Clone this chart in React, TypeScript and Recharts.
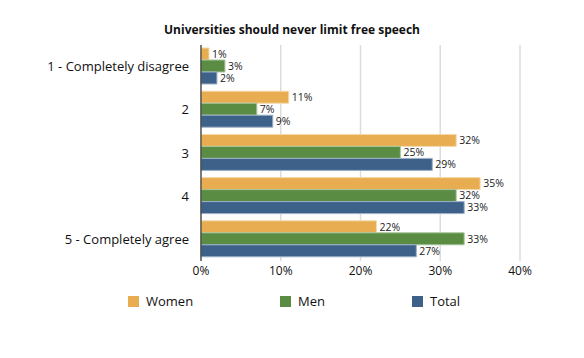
import { BarChart, Bar, XAxis, YAxis, CartesianGrid, LabelList } from 'recharts';

const categories = ['1 - Completely disagree', '2', '3', '4', '5 - Completely agree'];
const women = [1, 11, 32, 35, 22];
const men = [3, 7, 25, 32, 33];
const total = [2, 9, 29, 33, 27];
const xTicks = [0, 10, 20, 30, 40];

const data = categories.map((name, i) => ({ name, women: women[i], men: men[i], total: total[i] }));

const FONT = '"Open Sans", "Noto Sans", sans-serif';

const legendItems = [
  { label: 'Women', color: '#E8AD50', width: 152 },
  { label: 'Men', color: '#5A8C44', width: 132 },
  { label: 'Total', color: '#3E618A', width: 100 },
];

// legend drawn as plain html under the plot
function ChartLegend() {
  return (
    <div
      style={{
        position: 'absolute', top: 292, left: 0, width: 584, display: 'flex', paddingLeft: 128,
        fontFamily: FONT, fontSize: 13, color: '#111', boxSizing: 'border-box',
      }}
    >
      {legendItems.map(item => (
        <div key={item.label} style={{ width: item.width, display: 'flex', alignItems: 'center' }}>
          <span style={{ width: 11, height: 11, background: item.color, display: 'inline-block', marginRight: 7 }} />
          {item.label}
        </div>
      ))}
    </div>
  );
}

export default function App() {
  const pct = (v: any) => `${v}%`;
  const labelStyle = { fontSize: 10.5, fill: '#222', fontFamily: FONT };
  return (
    <div style={{ position: 'absolute', left: 0, top: 0, width: 584, height: 358, background: '#fff' }}>
      <div
        style={{
          position: 'absolute', top: 21, left: 0, width: 584,
          textAlign: 'center', fontFamily: FONT, fontWeight: 700, fontSize: 12, color: '#111',
        }}
      >
        Universities should never limit free speech
      </div>
      <BarChart
        width={584}
        height={358}
        data={data}
        layout="vertical"
        margin={{ top: 45, right: 64, bottom: 67, left: 0 }}
        barCategoryGap={3}
        barGap={0}
      >
        <CartesianGrid horizontal={false} stroke="#dcdcdc" strokeWidth={1.5} />
        <XAxis
          type="number"
          domain={[0, 40]}
          ticks={xTicks}
          tickFormatter={pct}
          height={30}
          axisLine={false}
          tickLine={false}
          tickSize={3}
          tick={{ fontSize: 12, fill: '#111', fontFamily: FONT }}
        />
        <YAxis
          type="category"
          dataKey="name"
          width={201}
          axisLine={{ stroke: '#333', strokeWidth: 1.2 }}
          tickLine={false}
          tickMargin={6}
          tick={{ fontSize: 13, fill: '#111', fontFamily: FONT }}
        />
        <Bar dataKey="women" fill="#E8AD50" stroke="#F3D9AD" strokeWidth={1} isAnimationActive={false}>
          <LabelList dataKey="women" position="right" offset={3} formatter={pct} style={labelStyle} />
        </Bar>
        <Bar dataKey="men" fill="#5A8C44" stroke="#A9C59C" strokeWidth={1} isAnimationActive={false}>
          <LabelList dataKey="men" position="right" offset={3} formatter={pct} style={labelStyle} />
        </Bar>
        <Bar dataKey="total" fill="#3E618A" stroke="#9DB0C6" strokeWidth={1} isAnimationActive={false}>
          <LabelList dataKey="total" position="right" offset={3} formatter={pct} style={labelStyle} />
        </Bar>
      </BarChart>
      <ChartLegend />
    </div>
  );
}
